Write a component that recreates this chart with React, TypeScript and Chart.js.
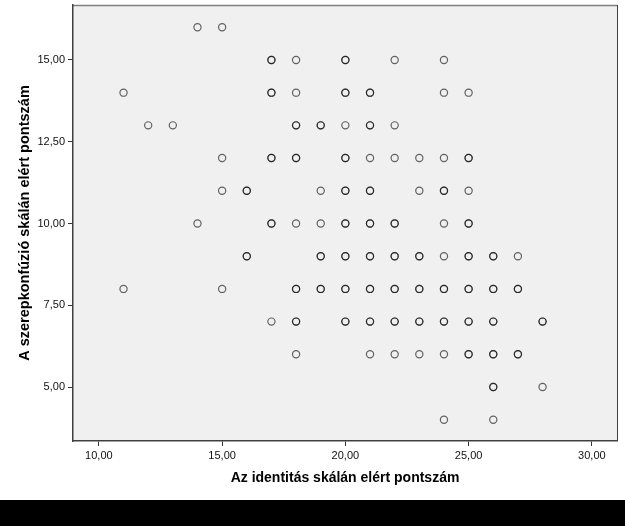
import React, { useEffect, useRef } from "react";
import { Chart, registerables } from "chart.js";

Chart.register(...registerables);

// Y value of each row of points
const rowY = [16, 15, 14, 13, 12, 11, 10, 9, 8, 7, 6, 5, 4];
// X values in each row
const rowX = [
  [14, 15],
  [17, 18, 20, 22, 24],
  [11, 17, 18, 20, 21, 24, 25],
  [12, 13, 18, 19, 20, 21, 22],
  [15, 17, 18, 20, 21, 22, 23, 24, 25],
  [15, 16, 19, 20, 21, 23, 24, 25],
  [14, 17, 18, 19, 20, 21, 22, 24, 25],
  [16, 19, 20, 21, 22, 23, 24, 25, 26, 27],
  [11, 15, 18, 19, 20, 21, 22, 23, 24, 25, 26, 27],
  [17, 18, 20, 21, 22, 23, 24, 25, 26, 28],
  [18, 21, 22, 23, 24, 25, 26, 27],
  [26, 28],
  [24, 26],
];
// Number of overlapping cases at each point (estimated from darkness)
const rowN = [
  [1, 1],
  [2, 1, 2, 1, 1],
  [1, 2, 1, 2, 2, 1, 1],
  [1, 1, 2, 2, 1, 2, 1],
  [1, 2, 2, 2, 1, 1, 1, 1, 2],
  [1, 2, 1, 2, 2, 1, 2, 1],
  [1, 2, 1, 1, 2, 2, 2, 1, 2],
  [2, 2, 2, 2, 2, 2, 1, 2, 2, 1],
  [1, 1, 2, 2, 2, 2, 2, 2, 2, 2, 2, 2],
  [1, 2, 2, 2, 2, 2, 2, 2, 2, 2],
  [1, 1, 1, 1, 1, 2, 2, 2],
  [2, 1],
  [1, 1],
];

const xTicks = [10, 15, 20, 25, 30];
const yTicks = [5, 7.5, 10, 12.5, 15];

const xTitle = "Az identitás skálán elért pontszám";
const yTitle = "A szerepkonfúzió skálán elért pontszám";

const fmt = (v: number) => v.toFixed(2).replace(".", ",");

export default function App() {
  const ref = useRef<HTMLCanvasElement | null>(null);

  useEffect(() => {
    if (!ref.current) return;
    const pts: { x: number; y: number }[] = [];
    rowY.forEach((y, i) => {
      rowX[i].forEach((x, j) => {
        for (let k = 0; k < rowN[i][j]; k++) pts.push({ x, y });
      });
    });

    const bgPlugin = {
      id: "plotBg",
      beforeDraw(chart: any) {
        const { ctx, chartArea: a } = chart;
        ctx.save();
        ctx.fillStyle = "#F0F0F0";
        ctx.fillRect(a.left, a.top, a.right - a.left, a.bottom - a.top);
        ctx.strokeStyle = "#808080";
        ctx.lineWidth = 1.5;
        ctx.beginPath();
        ctx.moveTo(a.left, a.top + 0.5);
        ctx.lineTo(a.right + 0.5, a.top + 0.5);
        ctx.stroke();
        ctx.strokeStyle = "#404040";
        ctx.lineWidth = 1;
        ctx.beginPath();
        ctx.moveTo(a.right + 0.5, a.top);
        ctx.lineTo(a.right + 0.5, a.bottom);
        ctx.stroke();
        ctx.restore();
      },
    };

    const tickFont = { family: "'Liberation Sans', Arial, sans-serif", size: 11 };
    const xTitleFont = { family: "'Liberation Sans', Arial, sans-serif", size: 14, weight: "bold" as const };
    const yTitleFont = { family: "'Liberation Sans', Arial, sans-serif", size: 14.5, weight: "bold" as const };

    const chart = new Chart(ref.current, {
      type: "scatter",
      data: {
        datasets: [
          {
            data: pts,
            pointRadius: 3.6,
            pointBorderWidth: 1.2,
            pointBackgroundColor: "rgba(0,0,0,0)",
            pointBorderColor: "rgba(0,0,0,0.6)",
            pointHoverRadius: 3.6,
          },
        ],
      },
      options: {
        animation: false,
        responsive: false,
        events: [],
        layout: { padding: { left: 0, top: 5, right: 8, bottom: 0 } },
        plugins: { legend: { display: false }, tooltip: { enabled: false } },
        scales: {
          x: {
            type: "linear",
            position: "bottom",
            min: 8.95,
            max: 31.02,
            afterFit: (s: any) => {
              s.height = 59;
              s.paddingLeft = 0;
              s.paddingRight = 0;
            },
            afterBuildTicks: (s: any) => {
              s.ticks = xTicks.map((v) => ({ value: v }));
            },
            ticks: {
              callback: (v: any) => fmt(Number(v)),
              font: tickFont,
              color: "#111",
              padding: 3,
              maxRotation: 0,
              autoSkip: false,
            },
            grid: { drawOnChartArea: false, tickLength: 5, color: "#333" },
            border: { color: "#404040", width: 1.5 },
            title: {
              display: true,
              text: xTitle,
              font: xTitleFont,
              color: "#000",
              padding: { top: 0, bottom: 13.5 },
            },
          },
          y: {
            type: "linear",
            position: "left",
            min: 3.35,
            max: 16.68,
            afterFit: (s: any) => {
              s.width = 73;
              s.paddingTop = 0;
              s.paddingBottom = 0;
            },
            afterBuildTicks: (s: any) => {
              s.ticks = yTicks.map((v) => ({ value: v }));
            },
            ticks: {
              callback: (v: any) => fmt(Number(v)),
              font: tickFont,
              color: "#111",
              padding: 3,
              autoSkip: false,
            },
            grid: { drawOnChartArea: false, tickLength: 5, color: "#333" },
            border: { color: "#404040", width: 1.5 },
            title: {
              display: true,
              text: yTitle,
              font: yTitleFont,
              color: "#000",
              padding: { top: 16, bottom: 0 },
            },
          },
        },
      },
      plugins: [bgPlugin],
    });
    return () => chart.destroy();
  }, []);

  return (
    <div style={{ position: "absolute", left: 0, top: 0, width: 625, height: 526, background: "#fff" }}>
      <canvas ref={ref} width={625} height={500} style={{ display: "block" }} />
      <div style={{ position: "absolute", left: 0, top: 500, width: 625, height: 26, background: "#000" }} />
    </div>
  );
}
